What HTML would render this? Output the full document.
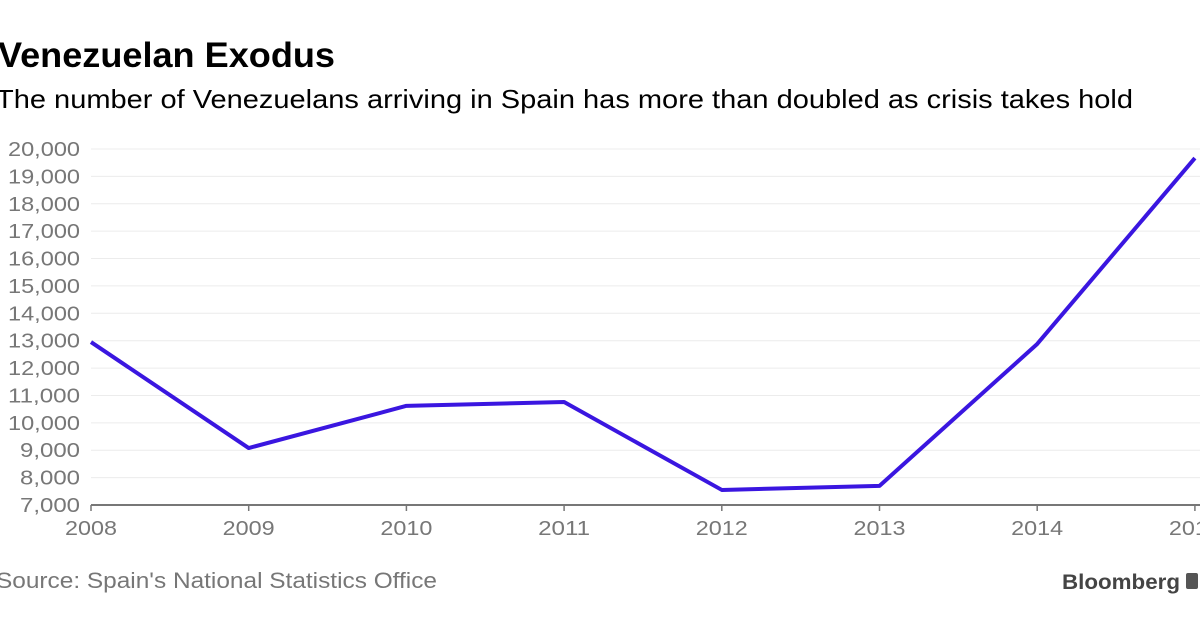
<!DOCTYPE html>
<html><head><meta charset="utf-8"><style>
body{margin:0;width:1200px;height:628px;overflow:hidden;background:#fff;font-family:"Liberation Sans",sans-serif;}
svg{position:absolute;left:0;top:0}
</style></head><body>
<svg id="c" width="1200" height="628">
<text x="-2" y="67" font-size="35" font-weight="bold" fill="#000" textLength="337" lengthAdjust="spacingAndGlyphs">Venezuelan Exodus</text>
<text x="-4" y="108" font-size="26" fill="#000" textLength="1137" lengthAdjust="spacingAndGlyphs">The number of Venezuelans arriving in Spain has more than doubled as crisis takes hold</text>
<text x="-4" y="588" font-size="22" fill="#777" textLength="441" lengthAdjust="spacingAndGlyphs">Source: Spain's National Statistics Office</text>
<text x="1062" y="589" font-size="21" font-weight="bold" fill="#444" textLength="118" lengthAdjust="spacingAndGlyphs">Bloomberg</text>
<rect x="1186" y="573" width="12" height="16" rx="2" fill="#555"/>
<g id="grid"></g><g id="axis"></g><g id="series"></g>
</svg>
<script>
const years=[2008,2009,2010,2011,2012,2013,2014,2015];
const arrivals=[12950,9080,10620,10760,7550,7700,12880,19670];
const yTicks=[7000,8000,9000,10000,11000,12000,13000,14000,15000,16000,17000,18000,19000,20000];
const NS="http://www.w3.org/2000/svg";
const x=v=>91+(v-2008)*157.7;
const y=v=>505-(v-7000)*(356/13000);
function mk(t,a,p){const e=document.createElementNS(NS,t);for(const k in a)e.setAttribute(k,a[k]);p.appendChild(e);return e;}
const grid=document.getElementById('grid'),axis=document.getElementById('axis'),series=document.getElementById('series');
yTicks.forEach(v=>{
  if(v>7000){const l=mk('line',{x1:91,x2:1200,y1:y(v),y2:y(v),stroke:'#ececec','stroke-width':1},grid);
  
  }
  const s=v.toLocaleString('en-US');
  const t=mk('text',{x:80,y:y(v)+7,'text-anchor':'end','font-size':20,fill:'#777',textLength:s.length*12,lengthAdjust:'spacingAndGlyphs'},axis);
  t.textContent=s;
  
  
});
const ax=mk('line',{x1:91,x2:1200,y1:505,y2:505,stroke:'#777','stroke-width':2},axis);


years.forEach(v=>{
  const tk=mk('line',{x1:x(v),x2:x(v),y1:505,y2:511,stroke:'#777','stroke-width':1.5},axis);
  
  
  const t=mk('text',{x:x(v),y:535,'text-anchor':'middle','font-size':20,fill:'#777',textLength:52,lengthAdjust:'spacingAndGlyphs'},axis);
  t.textContent=v;
  
  
});
const pts=years.map((v,i)=>x(v)+','+y(arrivals[i])).join(' ');
const pl=mk('polyline',{points:pts,fill:'none',stroke:'#3a16e0','stroke-width':4,'stroke-linejoin':'round'},series);


</script>
</body></html>
